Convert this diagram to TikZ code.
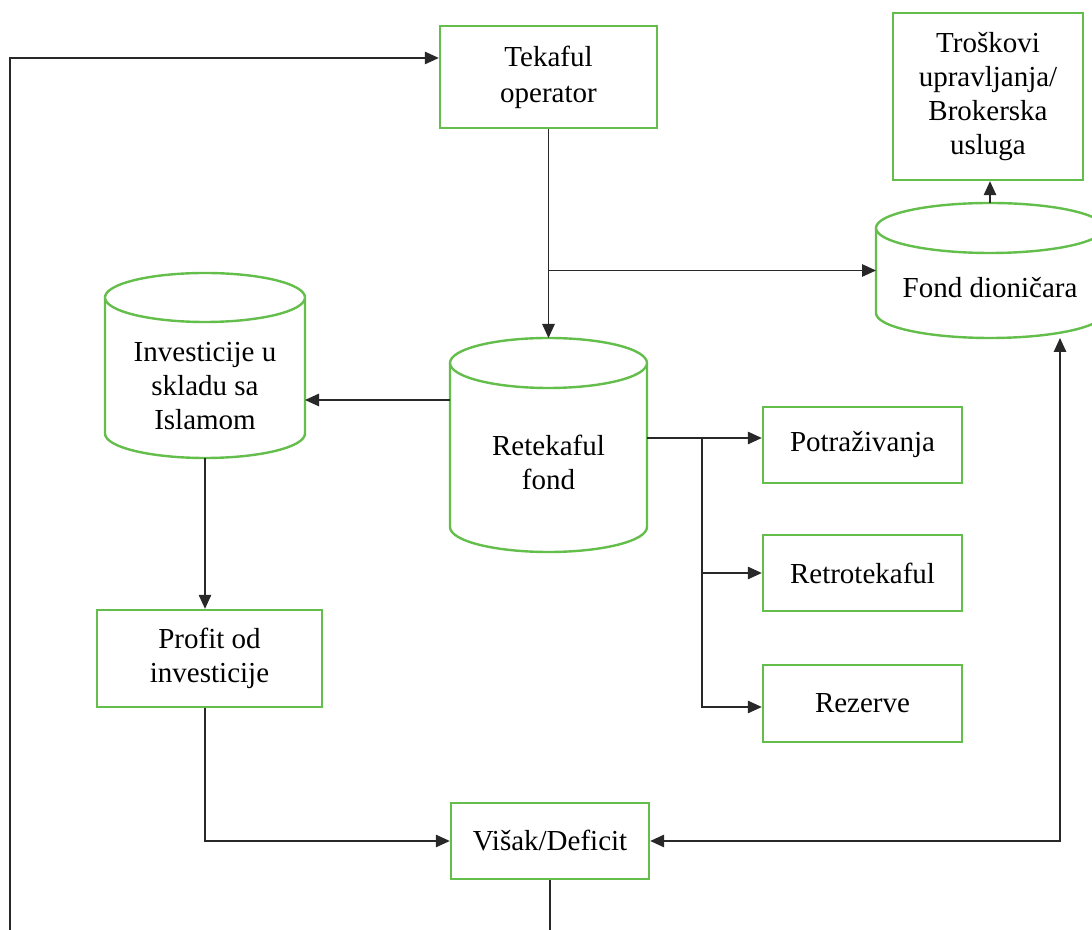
\documentclass[tikz,border=0pt]{standalone}
\usepackage{fontspec}
\setmainfont{Liberation Serif}
\usetikzlibrary{arrows.meta}
\definecolor{boxgreen}{RGB}{100,190,75}
\definecolor{wire}{RGB}{40,40,40}
% cylinder outline around a frame node: #1 node name, #2 x radius, #3 y radius
\newcommand\drawcyl[3]{%
  \draw[cylline] ([yshift=-#3]#1.north west) -- ([yshift=#3]#1.south west)
    arc[start angle=180,end angle=360,x radius=#2,y radius=#3]
    -- ([yshift=-#3]#1.north east)
    arc[start angle=0,end angle=180,x radius=#2,y radius=#3] -- cycle;
  \draw[cylline] ([yshift=-#3]#1.north west)
    arc[start angle=180,end angle=360,x radius=#2,y radius=#3];}
\tikzset{
  x=1pt, y=1pt,
  txt/.style={font=\fontsize{29}{34}\selectfont, align=center, inner sep=0pt},
  gbox/.style={txt, draw=boxgreen, line width=2.4pt},
  frame/.style={inner sep=0pt, outer sep=0pt},
  cylline/.style={draw=boxgreen, line width=2.4pt, fill=white},
  wireline/.style={draw=wire, line width=1.3pt},
  arr/.style={wireline, -{Triangle[length=14pt,width=12.5pt]}},
  arrboth/.style={wireline, {Triangle[length=14pt,width=12.5pt]}-{Triangle[length=14pt,width=12.5pt]}},
}
\begin{document}
\begin{tikzpicture}
\useasboundingbox (0,0) rectangle (1092,929);
\clip (0,0) rectangle (1092,929);

% rectangular boxes
\node[gbox, minimum width=217pt, minimum height=102pt] (tk) at (548.5,852) {Tekaful\\[2pt]operator};
\node[gbox, minimum width=190pt, minimum height=167pt] (tr) at (988,832.5) {Troškovi\\upravljanja/\\Brokerska\\usluga};
\node[gbox, minimum width=225pt, minimum height=97pt] (pr) at (209.5,270.5) {Profit od\\investicije};
\node[gbox, minimum width=198pt, minimum height=76pt] (vk) at (550,88) {Višak/Deficit};
\node[gbox, minimum width=199pt, minimum height=76pt] (pt) at (862.5,484) {Potraživanja};
\node[gbox, minimum width=199pt, minimum height=76pt] (rk) at (862.5,356) {Retrotekaful};
\node[gbox, minimum width=199pt, minimum height=77pt] (rz) at (862.5,225.5) {Rezerve};

% cylinder frames
\node[frame, minimum width=228pt, minimum height=135pt] (fd) at (990,658.5) {};
\node[frame, minimum width=197pt, minimum height=214pt] (rt) at (548.5,484) {};
\node[frame, minimum width=200pt, minimum height=185pt] (inv) at (205,563.5) {};
\drawcyl{fd}{114pt}{25pt}
\drawcyl{rt}{98.5pt}{25pt}
\drawcyl{inv}{100pt}{24.5pt}
\node[txt] (fdt) at (990,641) {Fond dioničara};
\node[txt] (rtt) at (548.5,467) {Retekaful\\fond};
\node[txt] (invt) at (205,543) {Investicije u\\skladu sa\\Islamom};

% connectors
\draw[arr] (tk.south) -- (rt.north);
\coordinate (br) at (tk.south |- fd.west);
\draw[arr] (br) -- (fd.west);
\draw[arr] (fd.north) -- (fd.north |- tr.south);
\draw[arr] ([yshift=45pt]rt.west) -- ([yshift=45pt]rt.west -| inv.east);
\draw[arr] (inv.south) -- (inv.south |- pr.north);
\draw[arr] (inv.south |- pr.south) |- (vk.west);
\draw[arrboth] (vk.east) -| ([xshift=70pt]fd.south);
\draw[arr] ([yshift=7pt]rt.east) -- ([yshift=7pt]rt.east -| pt.west);
\coordinate (bx) at (702,491);
\draw[arr] (bx) |- (rk.west);
\draw[arr] (bx) |- ([yshift=-3.5pt]rz.west);
\coordinate (lp) at (10,-40);
\draw[arr] (vk.south) |- (lp) |- ([yshift=19pt]tk.west);
\end{tikzpicture}
\end{document}
